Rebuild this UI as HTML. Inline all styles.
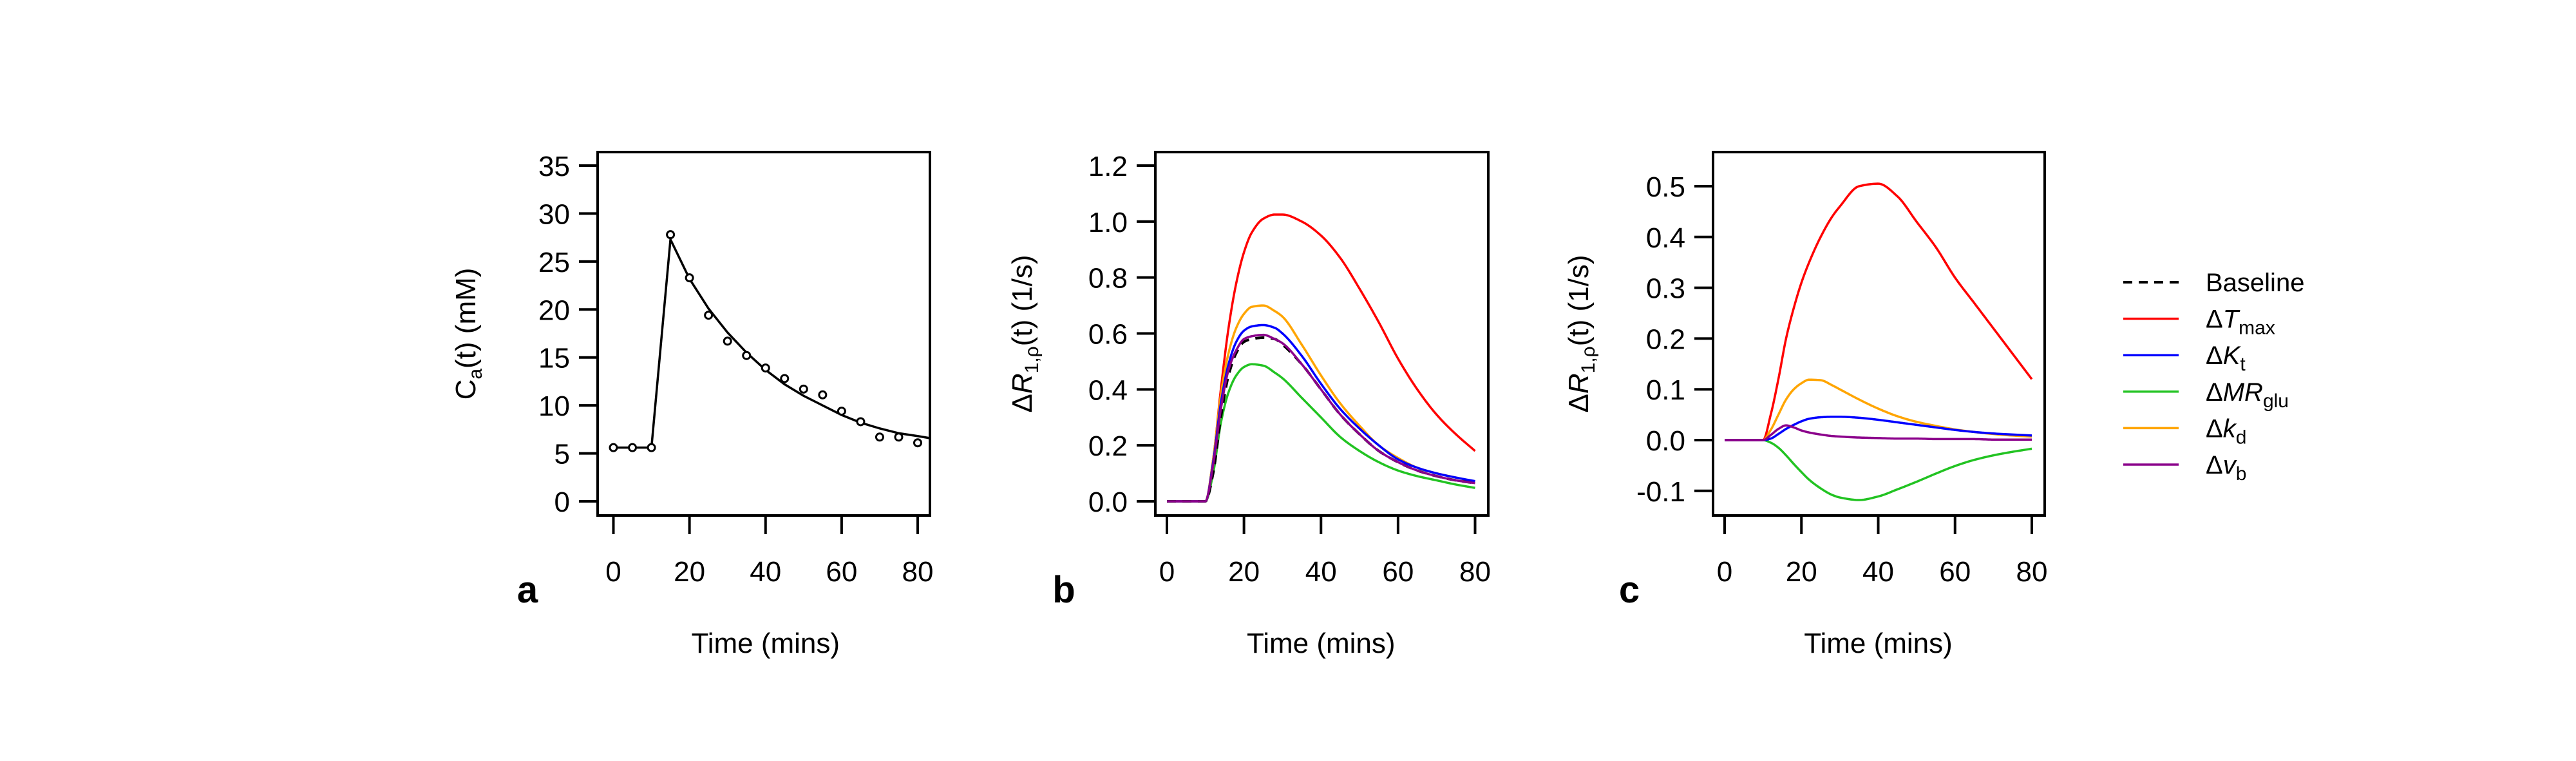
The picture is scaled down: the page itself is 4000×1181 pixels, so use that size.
<!DOCTYPE html>
<html><head><meta charset="utf-8"><style>
html,body{margin:0;padding:0;background:#fff}
svg{display:block;font-family:"Liberation Sans",Arial,sans-serif}
</style></head><body>
<svg id="chart" width="4000" height="1181" viewBox="0 0 4000 1181" xmlns="http://www.w3.org/2000/svg"></svg>
<script>
// ---- data ----
const timeA = [0,5,10,15,20,25,30,35,40,45,50,55,60,65,70,75,80];
const concPoints = [5.6,5.6,5.6,27.8,23.3,19.4,16.7,15.2,13.9,12.8,11.7,11.1,9.4,8.3,6.7,6.7,6.1];
const fitTime = [0,5,10,15,20,25,30,35,40,45,50,55,60,65,70,75,80,83];
const fitConc = [5.6,5.6,5.6,27.3,23.2,20.1,17.6,15.5,13.7,12.2,11.0,10.0,9.0,8.2,7.6,7.1,6.8,6.6];
const tGrid = [0,5,10,12,14,16,18,20,22,25,28,30,35,40,45,50,55,60,65,70,75,80];
const bBaseline = [0,0,0,0.10,0.30,0.45,0.53,0.57,0.58,0.585,0.58,0.56,0.49,0.40,0.31,0.24,0.18,0.14,0.11,0.09,0.075,0.065];
const bTmax = [0,0,0,0.15,0.40,0.62,0.78,0.89,0.96,1.01,1.025,1.025,1.0,0.95,0.87,0.76,0.64,0.51,0.40,0.31,0.24,0.18];
const bKt = [0,0,0,0.14,0.35,0.49,0.57,0.61,0.625,0.63,0.62,0.60,0.52,0.42,0.33,0.26,0.20,0.15,0.12,0.10,0.085,0.072];
const bMRglu = [0,0,0,0.10,0.28,0.39,0.45,0.48,0.49,0.485,0.46,0.44,0.37,0.30,0.23,0.18,0.14,0.11,0.09,0.075,0.06,0.048];
const bKd = [0,0,0,0.15,0.38,0.53,0.62,0.67,0.695,0.70,0.68,0.66,0.56,0.45,0.35,0.27,0.20,0.155,0.12,0.10,0.085,0.07];
const bVb = [0,0,0,0.13,0.33,0.47,0.54,0.58,0.59,0.595,0.58,0.565,0.49,0.40,0.31,0.24,0.18,0.14,0.11,0.09,0.075,0.065];
const cTmax = [0,0,0,0.05,0.12,0.20,0.26,0.31,0.35,0.40,0.44,0.46,0.50,0.505,0.48,0.43,0.38,0.32,0.27,0.22,0.17,0.12];
const cKt = [0,0,0,0.003,0.012,0.022,0.03,0.037,0.042,0.045,0.046,0.046,0.044,0.04,0.035,0.03,0.025,0.02,0.016,0.013,0.011,0.009];
const cMRglu = [0,0,0,-0.005,-0.015,-0.03,-0.047,-0.063,-0.078,-0.095,-0.108,-0.113,-0.118,-0.111,-0.097,-0.082,-0.066,-0.051,-0.039,-0.03,-0.023,-0.017];
const cKd = [0,0,0,0.02,0.05,0.08,0.10,0.112,0.119,0.118,0.108,0.10,0.08,0.062,0.047,0.036,0.028,0.021,0.016,0.012,0.009,0.007];
const cVb = [0,0,0,0.01,0.022,0.029,0.025,0.019,0.015,0.011,0.008,0.007,0.005,0.004,0.003,0.003,0.002,0.002,0.002,0.001,0.001,0.001];
const xTicks = [0,20,40,60,80];
const yTicksA = [0,5,10,15,20,25,30,35];
const yTicksB = [0,0.2,0.4,0.6,0.8,1.0,1.2];
const yTicksC = [-0.1,0,0.1,0.2,0.3,0.4,0.5];
const legendLabels = ["Baseline","Tmax","Kt","MRglu","kd","vb"];

const NS="http://www.w3.org/2000/svg";
const svg=document.getElementById('chart');
function el(tag,attrs,parent){const e=document.createElementNS(NS,tag);for(const k in attrs)e.setAttribute(k,attrs[k]);(parent||svg).appendChild(e);return e;}
// monotone cubic (Fritsch-Carlson) in data space, sampled
function monotone(xs,ys){
  const n=xs.length,d=[],m=new Array(n);
  for(let i=0;i<n-1;i++)d.push((ys[i+1]-ys[i])/(xs[i+1]-xs[i]));
  m[0]=d[0];m[n-1]=d[n-2];
  for(let i=1;i<n-1;i++){ if(d[i-1]*d[i]<=0)m[i]=0; else {const h0=xs[i]-xs[i-1],h1=xs[i+1]-xs[i];const w1=2*h1+h0,w2=h1+2*h0;m[i]=(w1+w2)/(w1/d[i-1]+w2/d[i]);}}
  const out=[];
  for(let i=0;i<n-1;i++){const h=xs[i+1]-xs[i];const steps=12;
    for(let s=0;s<steps;s++){const t=s/steps,t2=t*t,t3=t2*t;
      const y=(2*t3-3*t2+1)*ys[i]+(t3-2*t2+t)*h*m[i]+(-2*t3+3*t2)*ys[i+1]+(t3-t2)*h*m[i+1];
      out.push([xs[i]+t*h,y]);}}
  out.push([xs[n-1],ys[n-1]]);return out;
}

function panel(cfg){
  const g=el('g',{});
  
  
  const sx=v=>cfg.x0+(v-0)*(cfg.x80-cfg.x0)/80;
  const sy=v=>cfg.yz-(v-cfg.yv0)*(cfg.yz-cfg.yt)/(cfg.yv1-cfg.yv0);
  cfg.sx=sx;cfg.sy=sy;
  const box=el('rect',{x:cfg.L,y:236,width:cfg.R-cfg.L,height:564,fill:'none',stroke:'#000','stroke-width':4},g);
  
  const xa=el('g',{},g);
  el('line',{x1:sx(0),x2:sx(80),y1:800,y2:800,stroke:'#000','stroke-width':4},xa);
  xTicks.forEach(t=>{el('line',{x1:sx(t),x2:sx(t),y1:800,y2:829,stroke:'#000','stroke-width':4},xa);
    const tx=el('text',{x:sx(t),y:902,'font-size':44,'text-anchor':'middle'},xa);tx.textContent=t;
    });
  const ya=el('g',{},g);
  const yt=cfg.yTicks;
  el('line',{x1:cfg.L,x2:cfg.L,y1:sy(yt[0]),y2:sy(yt[yt.length-1]),stroke:'#000','stroke-width':4},ya);
  yt.forEach(v=>{el('line',{x1:cfg.L-29,x2:cfg.L,y1:sy(v),y2:sy(v),stroke:'#000','stroke-width':4},ya);
    const tx=el('text',{x:cfg.L-43,y:sy(v)+16,'font-size':44,'text-anchor':'end'},ya);tx.textContent=cfg.fmt(v);
    });
  const xt=el('text',{x:(sx(0)+sx(80))/2,y:1013,'font-size':44,'text-anchor':'middle'},g);xt.textContent='Time (mins)';
  
  const lab=el('text',{x:cfg.labX,y:935,'font-size':58,'font-weight':'bold','text-anchor':'middle'},g);lab.textContent=cfg.letter;
  
  const yl=el('text',{transform:`translate(${cfg.ylX},518) rotate(-90)`,'font-size':44,'text-anchor':'middle'},g);
  yl.innerHTML=cfg.ylab;
  
  return g;
}
function series(cfg,g,xs,ys,color,name,dash){
  const pts=monotone(xs,ys).map(p=>`${cfg.sx(p[0]).toFixed(2)},${cfg.sy(p[1]).toFixed(2)}`).join(' ');
  const p=el('polyline',{points:pts,fill:'none',stroke:color,'stroke-width':dash?4:3.5,'stroke-linejoin':'round','stroke-dasharray':dash?'14 10':'none'},g);
  
}
const rLab='&#916;<tspan font-style="italic">R</tspan><tspan font-size="30" dy="10">1,&#961;</tspan><tspan dy="-10">(t) (1/s)</tspan>';

// Panel a
const A={name:'panel-a',L:928,R:1444,x0:952.5,x80:1425,yz:778,yt:257,yv0:0,yv1:35,yTicks:yTicksA,fmt:v=>v,letter:'a',labX:819,ylX:738,
  ylab:'C<tspan font-size="30" dy="10">a</tspan><tspan dy="-10">(t) (mM)</tspan>'};
const gA=panel(A);
const fit=el('polyline',{points:fitTime.map((t,i)=>`${A.sx(t)},${A.sy(fitConc[i])}`).join(' '),fill:'none',stroke:'#000','stroke-width':3.5},gA);

timeA.forEach((t,i)=>{const c=el('circle',{cx:A.sx(t),cy:A.sy(concPoints[i]),r:5.5,fill:'#fff',stroke:'#000','stroke-width':3},gA);
  });

// Panel b
const B={name:'panel-b',L:1794,R:2311,x0:1812,x80:2290.5,yz:778,yt:257,yv0:0,yv1:1.2,yTicks:yTicksB,fmt:v=>v.toFixed(1),letter:'b',labX:1652,ylX:1602,ylab:rLab};
const gB=panel(B);
series(B,gB,tGrid,bTmax,'#ff0000','line-tmax');
series(B,gB,tGrid,bMRglu,'#22c322','line-mrglu');
series(B,gB,tGrid,bKd,'#ffa500','line-kd');
series(B,gB,tGrid,bKt,'#0000ff','line-kt');
series(B,gB,tGrid,bBaseline,'#000','line-baseline',true);
series(B,gB,tGrid,bVb,'#8b008b','line-vb');

// Panel c
const C={name:'panel-c',L:2660,R:3175,x0:2678,x80:3155,yz:683,yt:289,yv0:0,yv1:0.5,yTicks:yTicksC,fmt:v=>v.toFixed(1),letter:'c',labX:2530,ylX:2466,ylab:rLab};
const gC=panel(C);
series(C,gC,tGrid,cTmax,'#ff0000','line-tmax');
series(C,gC,tGrid,cMRglu,'#22c322','line-mrglu');
series(C,gC,tGrid,cKd,'#ffa500','line-kd');
series(C,gC,tGrid,cKt,'#0000ff','line-kt');
series(C,gC,tGrid,cVb,'#8b008b','line-vb');

// Legend
const lg=el('g',{});

const lColors=['#000','#ff0000','#0000ff','#22c322','#ffa500','#8b008b'];
const lHtml=['Baseline','&#916;<tspan font-style="italic">T</tspan><tspan font-size="30" dy="10">max</tspan>',
 '&#916;<tspan font-style="italic">K</tspan><tspan font-size="30" dy="10">t</tspan>',
 '&#916;<tspan font-style="italic">MR</tspan><tspan font-size="30" dy="10">glu</tspan>',
 '&#916;<tspan font-style="italic">k</tspan><tspan font-size="30" dy="10">d</tspan>',
 '&#916;<tspan font-style="italic">v</tspan><tspan font-size="30" dy="10">b</tspan>'];
legendLabels.forEach((n,i)=>{const y=438+i*56.6;
  const e=el('g',{},lg);
  
  
  el('line',{x1:3297,x2:3383,y1:y,y2:y,stroke:lColors[i],'stroke-width':i?3.5:4,'stroke-dasharray':i?'none':'14 10'},e);
  const t=el('text',{x:3425,y:y+14,'font-size':40},e);t.innerHTML=lHtml[i];});
</script>
</body></html>
